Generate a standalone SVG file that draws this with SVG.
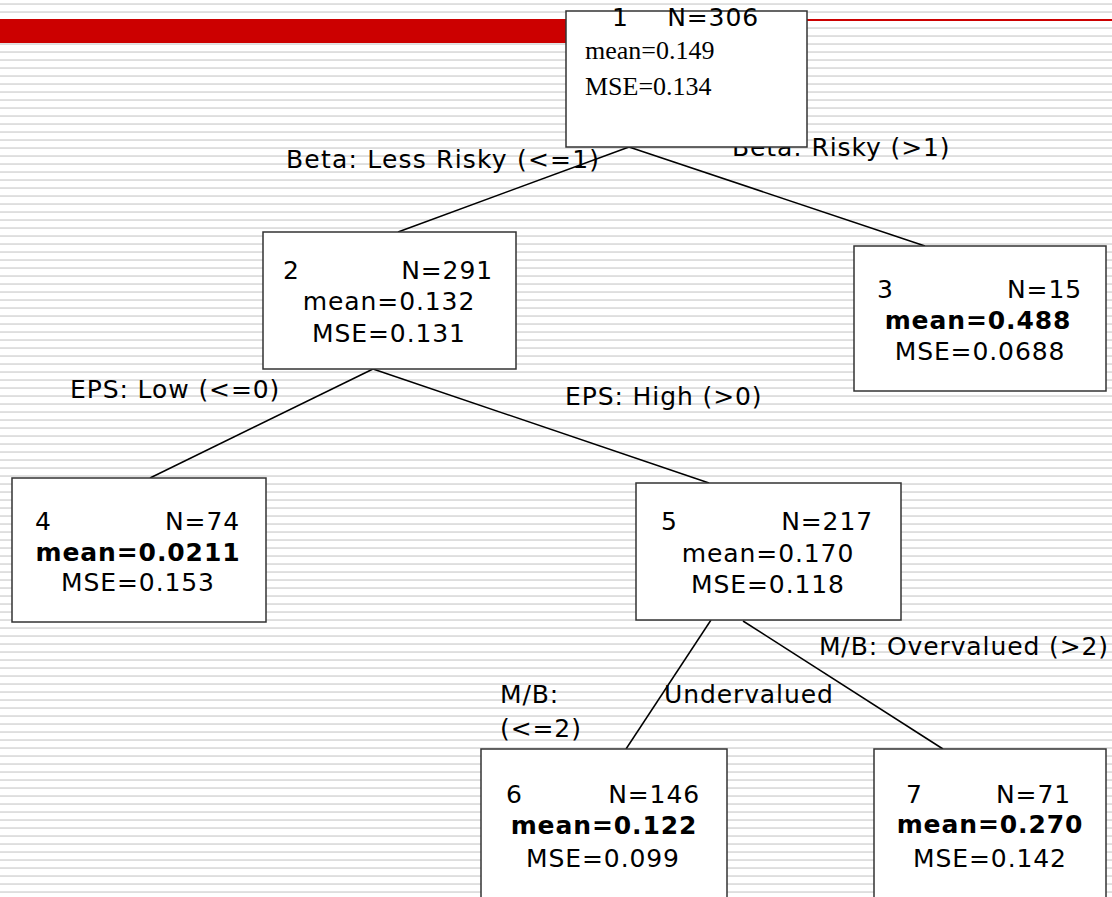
<svg xmlns="http://www.w3.org/2000/svg" width="1112" height="897" viewBox="0 0 1112 897">
<defs>
<pattern id="stripes" width="8" height="8" patternUnits="userSpaceOnUse">
<rect x="0" y="3.3" width="8" height="1.5" fill="#d6d6d6"/>
</pattern>
<style>
.box{fill:#fff;stroke:#333;stroke-width:1.5}
.t{font-family:"DejaVu Sans",Verdana,sans-serif;font-size:25px;letter-spacing:0.9px;fill:#000}
.b{font-weight:bold}
.m{text-anchor:middle}
.e{text-anchor:end}
.s{font-family:"Liberation Serif","Times New Roman",serif;font-size:26px;fill:#000}
.c{stroke:#000;stroke-width:1.5;fill:none}
</style>
</defs>
<rect width="1112" height="897" fill="#fff"/>
<rect width="1112" height="897" fill="url(#stripes)"/>
<rect x="0" y="19" width="570" height="24" fill="#cc0000"/>
<rect x="800" y="19" width="312" height="2" fill="#cc0000"/>

<g id="connectors">
<line class="c" x1="629" y1="147" x2="398" y2="232"/>
<line class="c" x1="629" y1="147" x2="925" y2="246"/>
<line class="c" x1="373" y1="369" x2="150" y2="478"/>
<line class="c" x1="373" y1="369" x2="709" y2="483"/>
<line class="c" x1="711" y1="620" x2="626" y2="749"/>
<line class="c" x1="743" y1="621" x2="943" y2="749"/>
</g>

<g id="labels">
<text class="t" x="286" y="168" style="letter-spacing:1.2px">Beta: Less Risky (&lt;=1)</text>
<text class="t" x="732" y="156">Beta: Risky (&gt;1)</text>
<text class="t" x="70" y="398">EPS: Low (&lt;=0)</text>
<text class="t" x="565" y="405">EPS: High (&gt;0)</text>
<text class="t" x="500" y="703">M/B:</text>
<text class="t" x="500" y="737">(&lt;=2)</text>
<text class="t" x="664" y="703">Undervalued</text>
<text class="t e" x="1109" y="655">M/B: Overvalued (&gt;2)</text>
</g>

<g id="node1">
<rect class="box" x="566" y="11" width="241" height="136"/>
<text class="t" x="612" y="26">1</text>
<text class="t e" x="759" y="26">N=306</text>
<text class="s" x="585" y="59">mean=0.149</text>
<text class="s" x="585" y="95">MSE=0.134</text>
</g>

<g id="node2">
<rect class="box" x="263" y="232" width="253" height="137"/>
<text class="t" x="283" y="279">2</text>
<text class="t e" x="493" y="279">N=291</text>
<text class="t m" x="389" y="310">mean=0.132</text>
<text class="t m" x="389" y="342">MSE=0.131</text>
</g>

<g id="node3">
<rect class="box" x="854" y="246" width="252" height="145"/>
<text class="t" x="877" y="298">3</text>
<text class="t e" x="1082" y="298">N=15</text>
<text class="t b m" x="978" y="329">mean=0.488</text>
<text class="t m" x="980" y="360">MSE=0.0688</text>
</g>

<g id="node4">
<rect class="box" x="12" y="478" width="254" height="144"/>
<text class="t" x="35" y="530">4</text>
<text class="t e" x="240" y="530">N=74</text>
<text class="t b m" x="138" y="561">mean=0.0211</text>
<text class="t m" x="138" y="591">MSE=0.153</text>
</g>

<g id="node5">
<rect class="box" x="636" y="483" width="265" height="137"/>
<text class="t" x="661" y="530">5</text>
<text class="t e" x="873" y="530">N=217</text>
<text class="t m" x="768" y="562">mean=0.170</text>
<text class="t m" x="768" y="593">MSE=0.118</text>
</g>

<g id="node6">
<rect class="box" x="481" y="749" width="246" height="170"/>
<text class="t" x="506" y="803">6</text>
<text class="t e" x="700" y="803">N=146</text>
<text class="t b m" x="604" y="834">mean=0.122</text>
<text class="t m" x="603" y="867">MSE=0.099</text>
</g>

<g id="node7">
<rect class="box" x="874" y="749" width="232" height="170"/>
<text class="t" x="906" y="803">7</text>
<text class="t e" x="1071" y="803">N=71</text>
<text class="t b m" x="990" y="833">mean=0.270</text>
<text class="t m" x="990" y="867">MSE=0.142</text>
</g>
</svg>
